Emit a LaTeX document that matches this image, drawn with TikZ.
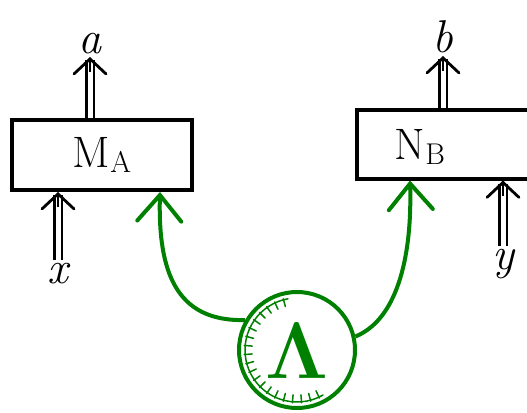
\documentclass[tikz,border=0pt]{standalone}
\usepackage{fontspec}
\usetikzlibrary{arrows.meta,calc}
\definecolor{lamgreen}{RGB}{0,128,0}
\newcommand{\lowsub}[1]{\raisebox{-0.25ex}{\fontsize{30}{32}\selectfont #1}}
\begin{document}
\begin{tikzpicture}[x=1pt,y=-1pt,
  box/.style={draw=black, line width=4pt, minimum width=180pt, minimum height=70pt, inner sep=0pt,
              font=\fontsize{44}{48}\selectfont},
  lbl/.style={inner sep=3pt, font=\fontsize{46}{50}\selectfont\itshape},
  shaft/.style={line width=2.5pt, double distance=5pt, shorten >=3pt},
  vtip/.style={line width=2.8pt, line cap=butt, -{Straight Barb[length=15pt,width=32pt,line cap=round]}},
  garrow/.style={draw=lamgreen, line width=4pt, -{Straight Barb[length=26pt,width=44pt,line cap=round]}},
]
\useasboundingbox (0,0) rectangle (527,412);
\clip (0,0) rectangle (527,412);

% the two measurement boxes
\node[box] (MA) at (102,155) {M\lowsub{A}};
\node[box, minimum width=200pt, minimum height=69pt] (NB) at (457,144) {};
\node[box, draw=none, minimum width=0pt, minimum height=0pt] (NBt) at (420,147) {N\lowsub{B}};

% inputs and outputs
\node[lbl, anchor=south] (a) at (90,57) {a};
\node[lbl, anchor=north] (x) at (58,260) {x};
\node[lbl, anchor=south] (b) at (443,56) {b};
\node[lbl, anchor=north] (y) at (503,246) {y};

% double arrows: shafts, then tips
\draw[shaft] ([xshift=-12pt]MA.north) -- (a.south);
\draw[vtip] ($(a.south)+(0,15)$) -- (a.south);
\draw[shaft] (x.north) -- ([xshift=-44pt]MA.south);
\draw[vtip] ($([xshift=-44pt]MA.south)+(0,15)$) -- ([xshift=-44pt]MA.south);
\draw[shaft] ([xshift=-14pt]NB.north) -- (b.south);
\draw[vtip] ($(b.south)+(0,15)$) -- (b.south);
\draw[shaft] (y.north) -- ([xshift=46pt]NB.south);
\draw[vtip] ($([xshift=46pt]NB.south)+(0,15)$) -- ([xshift=46pt]NB.south);

% shared hidden variable
\node[circle, draw=lamgreen, line width=4pt, minimum size=116pt, inner sep=0pt,
      text=lamgreen, font=\fontsize{80}{80}\selectfont\bfseries] (L) at (297,350) {Λ};
\begin{scope}[draw=lamgreen, line width=1.5pt, line cap=round]
  \draw ($(L)+(100:52pt)$) arc[start angle=100, end angle=300, radius=52pt];
  \foreach \a in {105,115,...,295}
    \draw ($(L)+(\a:53pt)$) -- ($(L)+(\a:45pt)$);
\end{scope}

% green connectors to the boxes
\draw[garrow] (L.150) .. controls (175,322) and (158,270) .. ([xshift=58pt]MA.south);
\draw[garrow] (L.13) .. controls (400,318) and (412,250) .. ([xshift=-47pt]NB.south);
\end{tikzpicture}
\end{document}
